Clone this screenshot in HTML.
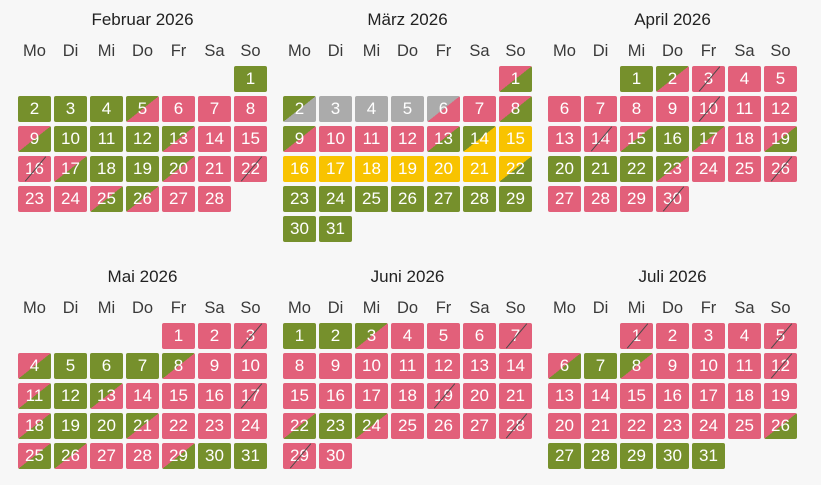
<!DOCTYPE html>
<html><head><meta charset="utf-8"><style>
body{margin:0;width:821px;height:485px;background:#f7f7f7;font-family:"Liberation Sans",sans-serif;position:relative;overflow:hidden}
.m{position:absolute;width:249px}
.t{text-align:center;font-size:17px;color:#222;height:20px;line-height:22px}
.g7{display:grid;grid-template-columns:repeat(7,33px);column-gap:3px;row-gap:4px}
.dn{margin-top:12px;margin-bottom:5px}
.dn span{text-align:center;font-size:16.5px;color:#3a3a3a;line-height:20px}
.d span{height:26px;line-height:26px;border-radius:2px;text-align:center;color:#fff;font-size:17px;position:relative;overflow:hidden}
.G{background:#76902c}.P{background:#e2607a}.Y{background:#f8c300}.A{background:#ababab}.E{background:none!important}
.GP{background:linear-gradient(to bottom right,#76902c 50%,#e2607a 50%)}
.PG{background:linear-gradient(to bottom right,#e2607a 50%,#76902c 50%)}
.GA{background:linear-gradient(to bottom right,#76902c 50%,#ababab 50%)}
.AP{background:linear-gradient(to bottom right,#ababab 50%,#e2607a 50%)}
.GY{background:linear-gradient(to bottom right,#76902c 50%,#f8c300 50%)}
.YG{background:linear-gradient(to bottom right,#f8c300 50%,#76902c 50%)}
.s::after{content:"";position:absolute;left:50%;top:-3px;width:1.3px;height:32px;background:#4a4a4a;transform:rotate(40deg)}
</style></head><body>

<div class="m" style="left:18px;top:9px"><div class="t">Februar 2026</div>
<div class="g7 dn"><span>Mo</span><span>Di</span><span>Mi</span><span>Do</span><span>Fr</span><span>Sa</span><span>So</span></div>
<div class="g7 d"><span class="E"></span><span class="E"></span><span class="E"></span><span class="E"></span><span class="E"></span><span class="E"></span><span class="G">1</span>
<span class="G">2</span><span class="G">3</span><span class="G">4</span><span class="GP">5</span><span class="P">6</span><span class="P">7</span><span class="P">8</span>
<span class="PG">9</span><span class="G">10</span><span class="G">11</span><span class="G">12</span><span class="GP">13</span><span class="P">14</span><span class="P">15</span>
<span class="P s">16</span><span class="PG">17</span><span class="G">18</span><span class="G">19</span><span class="GP">20</span><span class="P">21</span><span class="P s">22</span>
<span class="P">23</span><span class="P">24</span><span class="PG">25</span><span class="GP">26</span><span class="P">27</span><span class="P">28</span></div></div>

<div class="m" style="left:283px;top:9px"><div class="t">März 2026</div>
<div class="g7 dn"><span>Mo</span><span>Di</span><span>Mi</span><span>Do</span><span>Fr</span><span>Sa</span><span>So</span></div>
<div class="g7 d"><span class="E"></span><span class="E"></span><span class="E"></span><span class="E"></span><span class="E"></span><span class="E"></span><span class="PG">1</span>
<span class="GA">2</span><span class="A">3</span><span class="A">4</span><span class="A">5</span><span class="AP">6</span><span class="P">7</span><span class="PG">8</span>
<span class="GP">9</span><span class="P">10</span><span class="P">11</span><span class="P">12</span><span class="PG">13</span><span class="GY">14</span><span class="Y">15</span>
<span class="Y">16</span><span class="Y">17</span><span class="Y">18</span><span class="Y">19</span><span class="Y">20</span><span class="Y">21</span><span class="YG">22</span>
<span class="G">23</span><span class="G">24</span><span class="G">25</span><span class="G">26</span><span class="G">27</span><span class="G">28</span><span class="G">29</span>
<span class="G">30</span><span class="G">31</span></div></div>

<div class="m" style="left:548px;top:9px"><div class="t">April 2026</div>
<div class="g7 dn"><span>Mo</span><span>Di</span><span>Mi</span><span>Do</span><span>Fr</span><span>Sa</span><span>So</span></div>
<div class="g7 d"><span class="E"></span><span class="E"></span><span class="G">1</span><span class="GP">2</span><span class="P s">3</span><span class="P">4</span><span class="P">5</span>
<span class="P">6</span><span class="P">7</span><span class="P">8</span><span class="P">9</span><span class="P s">10</span><span class="P">11</span><span class="P">12</span>
<span class="P">13</span><span class="P s">14</span><span class="PG">15</span><span class="G">16</span><span class="GP">17</span><span class="P">18</span><span class="PG">19</span>
<span class="G">20</span><span class="G">21</span><span class="G">22</span><span class="GP">23</span><span class="P">24</span><span class="P">25</span><span class="P s">26</span>
<span class="P">27</span><span class="P">28</span><span class="P">29</span><span class="P s">30</span></div></div>

<div class="m" style="left:18px;top:266px"><div class="t">Mai 2026</div>
<div class="g7 dn"><span>Mo</span><span>Di</span><span>Mi</span><span>Do</span><span>Fr</span><span>Sa</span><span>So</span></div>
<div class="g7 d"><span class="E"></span><span class="E"></span><span class="E"></span><span class="E"></span><span class="P">1</span><span class="P">2</span><span class="P s">3</span>
<span class="PG">4</span><span class="G">5</span><span class="G">6</span><span class="G">7</span><span class="GP">8</span><span class="P">9</span><span class="P">10</span>
<span class="PG">11</span><span class="G">12</span><span class="GP">13</span><span class="P">14</span><span class="P">15</span><span class="P">16</span><span class="P s">17</span>
<span class="PG">18</span><span class="G">19</span><span class="G">20</span><span class="GP">21</span><span class="P">22</span><span class="P">23</span><span class="P">24</span>
<span class="PG">25</span><span class="GP">26</span><span class="P">27</span><span class="P">28</span><span class="PG">29</span><span class="G">30</span><span class="G">31</span></div></div>

<div class="m" style="left:283px;top:266px"><div class="t">Juni 2026</div>
<div class="g7 dn"><span>Mo</span><span>Di</span><span>Mi</span><span>Do</span><span>Fr</span><span>Sa</span><span>So</span></div>
<div class="g7 d"><span class="G">1</span><span class="G">2</span><span class="GP">3</span><span class="P">4</span><span class="P">5</span><span class="P">6</span><span class="P s">7</span>
<span class="P">8</span><span class="P">9</span><span class="P">10</span><span class="P">11</span><span class="P">12</span><span class="P">13</span><span class="P">14</span>
<span class="P">15</span><span class="P">16</span><span class="P">17</span><span class="P">18</span><span class="P s">19</span><span class="P">20</span><span class="P">21</span>
<span class="PG">22</span><span class="G">23</span><span class="GP">24</span><span class="P">25</span><span class="P">26</span><span class="P">27</span><span class="P s">28</span>
<span class="P s">29</span><span class="P">30</span></div></div>

<div class="m" style="left:548px;top:266px"><div class="t">Juli 2026</div>
<div class="g7 dn"><span>Mo</span><span>Di</span><span>Mi</span><span>Do</span><span>Fr</span><span>Sa</span><span>So</span></div>
<div class="g7 d"><span class="E"></span><span class="E"></span><span class="P s">1</span><span class="P">2</span><span class="P">3</span><span class="P">4</span><span class="P s">5</span>
<span class="PG">6</span><span class="G">7</span><span class="GP">8</span><span class="P">9</span><span class="P">10</span><span class="P">11</span><span class="P s">12</span>
<span class="P">13</span><span class="P">14</span><span class="P">15</span><span class="P">16</span><span class="P">17</span><span class="P">18</span><span class="P">19</span>
<span class="P">20</span><span class="P">21</span><span class="P">22</span><span class="P">23</span><span class="P">24</span><span class="P">25</span><span class="PG">26</span>
<span class="G">27</span><span class="G">28</span><span class="G">29</span><span class="G">30</span><span class="G">31</span></div></div>

</body></html>
